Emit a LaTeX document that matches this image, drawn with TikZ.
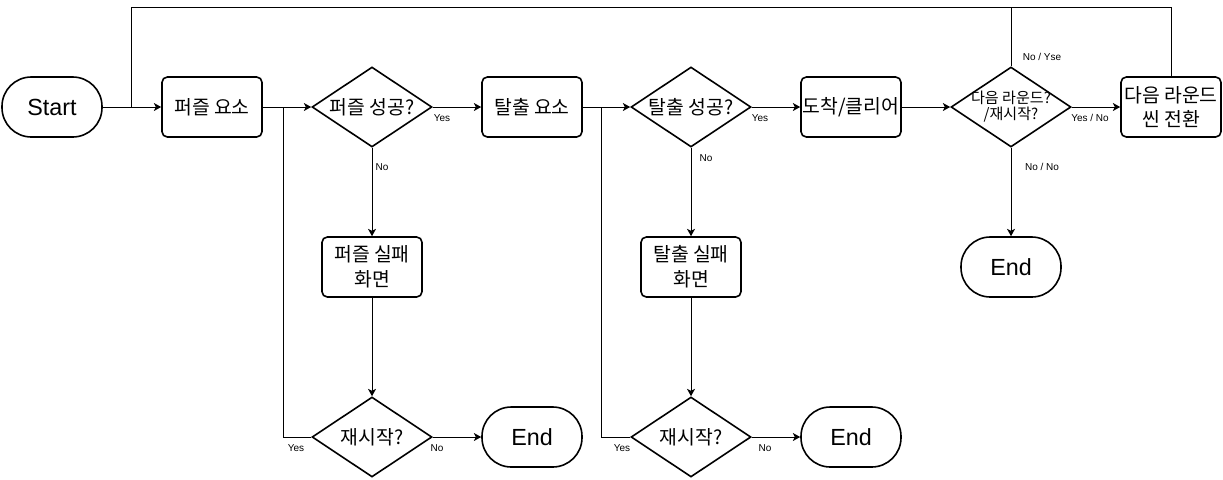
\documentclass[tikz,border=0pt]{standalone}
\usepackage{fontspec}
\setmainfont{Liberation Sans}
\newfontfamily\kr{Noto Sans CJK KR}
\usetikzlibrary{shapes.geometric,arrows.meta}
\begin{document}
\begin{tikzpicture}[x=0.75pt,y=-0.75pt,
  box/.style={draw,line width=1.2pt,rounded corners=4pt,minimum width=75pt,minimum height=45pt,inner sep=0pt,align=center,font=\kr\fontsize{14.5}{18.5}\selectfont},
  term/.style={draw,line width=1.2pt,rounded corners=22pt,minimum width=75pt,minimum height=45pt,inner sep=0pt,font=\fontsize{17.5}{20}\selectfont},
  dia/.style={draw,diamond,line width=1.2pt,minimum width=90pt,minimum height=60pt,inner sep=0pt,aspect=1.5},
  dtext/.style={align=center,inner sep=0pt,font=\kr\fontsize{14.5}{18.5}\selectfont},
  dtsmall/.style={align=center,inner sep=0pt,font=\kr\fontsize{11.3}{12}\selectfont},
  line/.style={draw,line width=0.75pt},
  conn/.style={line,-{Stealth[length=5.5pt,width=6pt,inset=1.5pt]}},
  lab/.style={inner sep=0pt,font=\fontsize{7.5}{9}\selectfont}
]
\useasboundingbox (0,0) rectangle (1223,479);

% main row
\node[term] (start) at (52,107) {Start};
\node[box] (pe) at (212,107) {퍼즐 요소};
\node[dia,label={[dtext]center:퍼즐 성공?}] (d1) at (372,107) {};
\node[box] (ee) at (532,107) {탈출 요소};
\node[dia,label={[dtext]center:탈출 성공?}] (d2) at (691,107) {};
\node[box] (cl) at (851,107) {도착/클리어};
\node[dia,label={[dtsmall]center:{다음 라운드?\\/재시작?}}] (d3) at (1011,107) {};
\node[box] (nx) at (1171,107) {다음 라운드\\씬 전환};
\node[term] (end3) at (1011,267) {End};

% lower columns
\node[box] (pf) at (372,267) {퍼즐 실패\\화면};
\node[dia,label={[dtext]center:재시작?}] (r1) at (372,437) {};
\node[term] (end1) at (532,437) {End};
\node[box] (ef) at (691,267) {탈출 실패\\화면};
\node[dia,label={[dtext]center:재시작?}] (r2) at (691,437) {};
\node[term] (end2) at (851,437) {End};

% junction coordinates
\coordinate (j0) at (131,107);
\coordinate (t0) at (131,7);
\coordinate (t1) at (1171,7);
\coordinate (t2) at (1011,7);
\coordinate (j1) at (283,107);
\coordinate (j2) at (601,107);

% connectors
\draw[conn] (start) -- (pe);
\draw[line] (nx.north) -- (t1) -- (t0) -- (j0);
\draw[line] (d3.north) -- (t2);
\draw[conn] (pe) -- (d1);
\draw[conn] (d1) -- (ee);
\draw[conn] (d1) -- (pf);
\draw[conn] (pf) -- (r1);
\draw[conn] (r1) -- (end1);
\draw[line] (r1.west) -| (j1);
\draw[conn] (ee) -- (d2);
\draw[conn] (d2) -- (cl);
\draw[conn] (d2) -- (ef);
\draw[conn] (ef) -- (r2);
\draw[conn] (r2) -- (end2);
\draw[line] (r2.west) -| (j2);
\draw[conn] (cl) -- (d3);
\draw[conn] (d3) -- (nx);
\draw[conn] (d3) -- (end3);

% edge labels
\node[lab] (l1) at (442,118) {Yes};
\node[lab] (l2) at (382,167) {No};
\node[lab] (l3) at (760,118) {Yes};
\node[lab] (l4) at (706,158) {No};
\node[lab] (l5) at (1042,57) {No / Yse};
\node[lab] (l6) at (1090,118) {Yes / No};
\node[lab] (l7) at (1042,167) {No / No};
\node[lab] (l8) at (296,448) {Yes};
\node[lab] (l9) at (437,448) {No};
\node[lab] (l10) at (622,448) {Yes};
\node[lab] (l11) at (765,448) {No};
\end{tikzpicture}
\end{document}
